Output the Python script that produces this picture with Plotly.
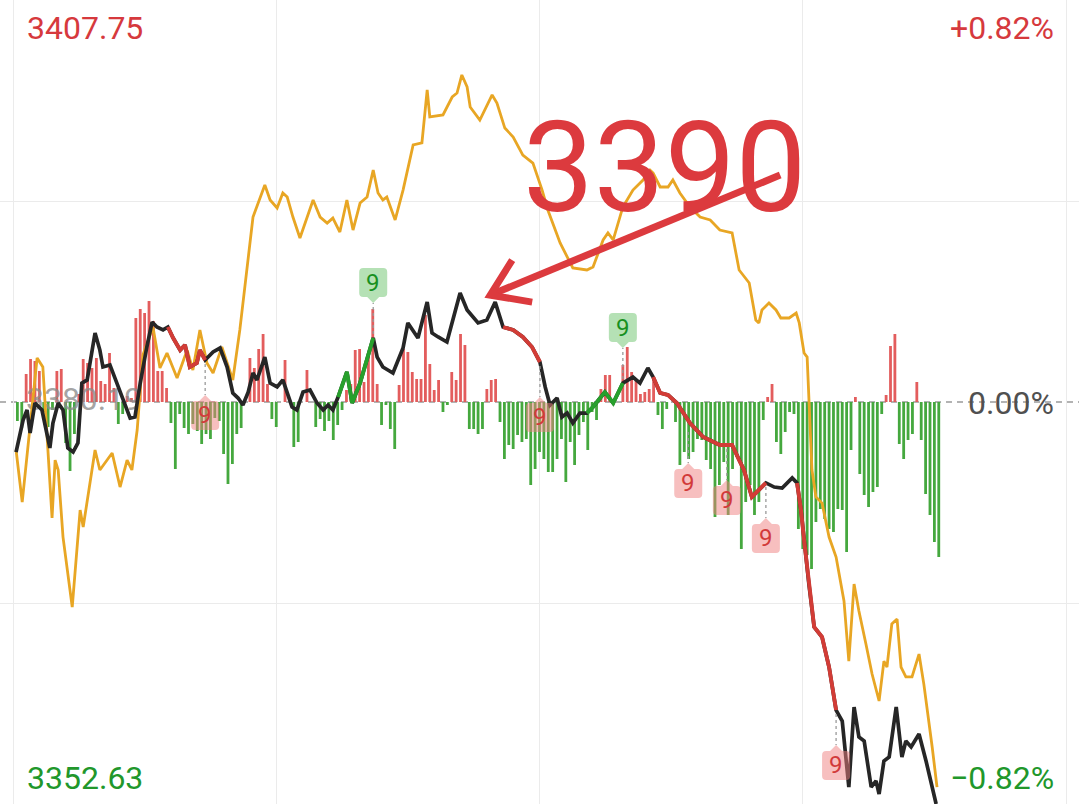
import plotly.graph_objects as go

# ---------------- data ----------------
PREV_CLOSE = 3380.19
TOP_PRICE = 3407.75
BOTTOM_PRICE = 3352.63
TOP_PCT = "+0.82%"
BOTTOM_PCT = "\u22120.82%"
MID_PCT = "0.00%"

# minutes since the open (0..240)
avg_t = [0.7, 2.1, 5.5, 6.8, 8.9, 9.6, 10.3, 11.4, 13.5, 15.3, 16.0, 18.7, 19.8, 22.6, 24.4, 26.0, 27.1,
         28.3, 29.6, 31.9, 33.5, 35.1, 37.4, 39.7, 41.0, 42.6, 44.2, 45.6, 47.6, 50.1, 51.7, 53.3, 54.7,
         57.4, 58.6, 60.2, 61.5, 62.5, 63.8, 65.4, 67.0, 68.4, 70.0, 71.6, 72.9, 74.5, 76.1, 77.5, 79.1,
         80.7, 82.1, 83.2, 84.3, 85.2, 87.1, 88.9, 91.2, 93.2, 94.4, 95.0, 98.0, 100.1, 101.2, 102.3, 103.5,
         104.2, 106.4, 109.2, 110.3, 112.1, 114.0, 116.2, 118.5, 120.6, 121.9, 124.7, 127.6, 130.8, 132.2,
         134.5, 135.6, 136.8, 139.0, 141.3, 143.6, 145.2, 145.9, 147.5, 149.3, 150.4, 152.0, 154.3, 156.6,
         158.9, 161.1, 163.9, 165.5, 167.8, 169.3, 170.0, 170.7, 172.3, 173.9, 175.0, 176.9, 178.5, 179.2,
         180.3, 181.0, 181.4, 182.1, 183.0, 184.4, 186.0, 187.6, 189.4, 190.5, 191.7, 192.8, 194.4, 195.8,
         197.4, 198.5, 199.2, 200.3, 201.5, 202.4, 203.5, 204.9, 206.5, 207.6, 209.5, 210.6]
avg_p = [3376.90, 3373.33, 3383.21, 3382.59, 3372.24, 3376.21, 3375.53, 3370.93, 3366.13, 3372.78, 3371.62,
         3376.90, 3375.53, 3376.69, 3374.36, 3376.21, 3375.53, 3378.27, 3383.41, 3385.33, 3382.52, 3383.55,
         3381.83, 3383.75, 3382.38, 3385.13, 3382.86, 3382.18, 3383.96, 3381.70, 3385.13, 3389.24, 3392.87,
         3395.07, 3394.04, 3393.49, 3394.52, 3394.24, 3392.87, 3391.43, 3392.87, 3394.04, 3392.87, 3392.46,
         3392.80, 3391.84, 3394.04, 3391.98, 3393.83, 3394.24, 3396.09, 3394.52, 3394.04, 3394.24, 3392.67,
         3394.72, 3397.81, 3397.95, 3401.58, 3399.73, 3399.87, 3401.10, 3401.37, 3402.61, 3401.79, 3400.41,
         3399.52, 3401.24, 3400.69, 3398.97, 3398.36, 3397.12, 3396.57, 3394.72, 3393.35, 3391.09, 3389.38,
         3389.24, 3389.44, 3391.30, 3391.78, 3391.30, 3393.56, 3394.72, 3395.41, 3396.09, 3395.89, 3394.93,
         3394.93, 3395.41, 3394.52, 3393.56, 3392.87, 3392.67, 3391.98, 3391.78, 3389.24, 3388.35, 3385.81,
         3385.61, 3386.50, 3386.98, 3386.50, 3385.95, 3385.95, 3386.29, 3385.61, 3383.55, 3383.27, 3380.12,
         3375.53, 3373.68, 3373.26, 3370.93, 3369.56, 3366.55, 3362.43, 3367.71, 3365.86, 3363.60, 3361.54,
         3359.69, 3362.43, 3362.02, 3364.97, 3365.31, 3362.02, 3361.34, 3361.34, 3362.91, 3360.85, 3356.54,
         3353.79]

price_t = [0.7, 2.3, 3.2, 3.9, 5.0, 6.6, 8.4, 9.1, 10.3, 11.4, 12.5, 13.7, 14.8, 15.7, 16.9, 18.7, 19.8,
           20.5, 22.1, 23.7, 25.1, 26.7, 27.8, 29.0, 30.5, 31.7, 32.8, 34.2, 35.3, 36.5, 38.1, 39.2, 40.3,
           41.9, 42.6, 43.8, 45.6, 47.2, 48.8, 50.1, 51.3, 52.4, 53.6, 54.7, 55.6, 57.4, 58.6, 60.2, 61.5,
           63.6, 64.7, 66.1, 67.7, 69.3, 70.7, 71.8, 72.9, 74.1, 76.1, 77.3, 79.1, 82.1, 83.0, 84.3, 86.6,
           88.9, 90.0, 92.3, 94.4, 95.5, 96.9, 98.9, 101.9, 103.5, 106.0, 108.0, 109.9, 111.7, 114.0, 116.2,
           118.3, 120.1, 121.3, 122.4, 124.0, 125.1, 126.3, 127.6, 129.2, 130.8, 132.2, 134.9, 136.8, 139.0,
           141.3, 142.9, 144.7, 145.9, 147.5, 149.3, 151.3, 154.3, 157.3, 161.1, 163.9, 165.5, 166.6, 168.4,
           170.0, 171.6, 173.5, 175.3, 177.6, 178.7, 179.6, 180.3, 181.4, 182.6, 184.4, 186.0, 187.6, 189.0,
           190.5, 191.7, 192.8, 194.0, 195.6, 196.7, 197.4, 198.5, 199.7, 201.3, 202.6, 203.5, 204.7, 206.5,
           208.1, 210.4]
price_p = [3376.76, 3378.95, 3379.64, 3378.06, 3380.12, 3379.64, 3377.04, 3378.75, 3380.12, 3379.64, 3377.04,
           3376.76, 3377.38, 3381.49, 3381.70, 3384.92, 3383.75, 3382.59, 3382.73, 3381.49, 3380.33, 3379.09,
           3379.16, 3381.49, 3383.96, 3385.67, 3385.33, 3385.13, 3385.33, 3384.58, 3383.75, 3384.10, 3382.59,
           3382.86, 3383.75, 3383.07, 3383.62, 3383.89, 3382.59, 3380.81, 3380.46, 3379.98, 3380.87, 3382.18,
           3381.70, 3383.27, 3381.49, 3381.22, 3381.70, 3379.85, 3379.64, 3380.87, 3381.01, 3380.12, 3379.64,
           3379.98, 3379.64, 3380.53, 3382.25, 3380.12, 3381.49, 3384.58, 3383.27, 3382.59, 3382.18, 3383.89,
           3385.61, 3384.58, 3387.04, 3384.92, 3384.65, 3384.30, 3387.66, 3386.50, 3385.61, 3385.81, 3387.04,
           3385.33, 3385.13, 3384.65, 3383.96, 3382.93, 3381.22, 3379.98, 3380.46, 3379.16, 3379.43, 3378.75,
           3379.43, 3379.43, 3379.85, 3380.87, 3380.12, 3381.49, 3381.90, 3381.49, 3382.52, 3381.90, 3380.81,
           3380.67, 3380.12, 3378.75, 3377.79, 3377.24, 3377.24, 3376.21, 3375.53, 3373.68, 3374.16, 3374.64,
           3374.36, 3374.29, 3374.98, 3374.64, 3372.78, 3370.73, 3367.71, 3364.76, 3364.08, 3362.02, 3359.07,
           3358.32, 3353.79, 3359.28, 3357.22, 3356.95, 3353.79, 3354.21, 3353.31, 3355.58, 3355.85, 3359.28,
           3355.85, 3356.95, 3356.54, 3357.43, 3355.58, 3352.63]

# coloured runs of the price line: (first index, last index, kind)
runs = [(28, 35, "down"), (57, 61, "up"), (77, 81, "down"), (89, 93, "up"), (97, 109, "down"), (113, 120, "down")]

# one bar per minute, starting at minute 1
flow = [-19, -26, 28, 43, 41, 31, -10, -25, -8, 31,
        33, -41, -69, -32, 8, 43, 39, 34, 44, 21,
        18, 49, 14, -22, -12, 6, 4, 84, 93, 89,
        101, 81, 31, 31, 14, -21, -67, -12, -26, -32,
        -22, -29, -42, -32, -37, -16, -19, -52, -82, -62,
        -32, -26, 0, 44, 34, 53, 68, 18, -17, -25,
        0, 42, 0, -45, -40, 0, 32, 0, -25, -17,
        -29, -19, -38, -23, -8, 12, 18, 52, 53, 20,
        47, 93, 18, -23, -3, -27, -47, 17, 53, 50,
        30, 23, 23, 87, 38, 12, 22, -10, -3, 30,
        22, 68, 57, -27, -27, -32, -27, 13, 22, 23,
        -20, -57, -43, -47, -33, -40, -37, -83, -67, -50,
        -57, -70, -70, -57, -37, -80, -40, -63, -33, -20,
        -48, -10, -18, 13, 27, 27, 0, 0, 37, 55,
        30, 23, 8, 10, 13, 23, -13, -27, -7, 0,
        -20, -63, -50, -57, -50, -37, -38, -58, -67, -115,
        -83, -60, -113, -67, -55, -147, -100, -83, -113, -100,
        -18, 5, 18, -40, -52, -30, -10, -12, -127, -147,
        -153, -167, -120, -107, -117, -127, -130, -107, -108, -150,
        -48, 5, -72, -93, -105, -90, -85, -12, 7, 56,
        68, -42, -57, -38, -32, 20, -38, -92, -113, -140,
        -155]
flow_t = list(range(1, len(flow) + 1))

# "9" signals: minute, price, kind
sig_t = [43.8, 82.1, 120.1, 139.0, 153.9, 162.7, 171.6, 187.6]
sig_p = [3383.07, 3384.58, 3382.93, 3381.49, 3378.41, 3377.24, 3374.64, 3359.07]
sig_kind = ["down", "up", "down", "up", "down", "down", "down", "down"]

# annotation arrow points at the morning high of the price line
CALLOUT_TEXT = "3390"
callout_t, callout_p = 109.9, 3387.04

# ---------------- styling ----------------
RED = "#d6393d"
GREEN = "#21972b"
BAR_RED = "#e35d5d"
BAR_GREEN = "#45a83e"
FONT = "Roboto"

fig = go.Figure()

# faint previous-close label sits under everything
fig.add_trace(go.Scatter(x=[16.2], y=[0], mode="text", text=[f"{PREV_CLOSE:.2f}"],
                         textfont=dict(family=FONT, size=32, color="rgba(140,140,140,0.8)"),
                         textposition="middle center", yaxis="y", hoverinfo="skip"))

fig.add_trace(go.Bar(x=flow_t, y=flow, width=0.64, yaxis="y",
                     marker=dict(color=[BAR_RED if v > 0 else BAR_GREEN for v in flow], line=dict(width=0)),
                     hoverinfo="skip"))

fig.add_trace(go.Scatter(x=avg_t, y=avg_p, mode="lines", yaxis="y2",
                         line=dict(color="#e8a624", width=2.8), hoverinfo="skip"))
fig.add_trace(go.Scatter(x=price_t, y=price_p, mode="lines", yaxis="y2",
                         line=dict(color="#262626", width=3.7), hoverinfo="skip"))
for a, b, kind in runs:
    fig.add_trace(go.Scatter(x=price_t[a:b + 1], y=price_p[a:b + 1], mode="lines", yaxis="y2",
                             line=dict(color=("#d23c36" if kind == "down" else "#27a02c"), width=3.9),
                             hoverinfo="skip"))

shapes = []
annotations = []

# zero (previous close) dashed line
shapes.append(dict(type="line", xref="paper", yref="y", x0=0, x1=1, y0=0, y1=0, layer="below",
                   line=dict(color="#9a9a9a", width=1.6, dash="6px,5px")))

# "9" signal boxes
down_box = ("M -10,-41 L -6,-41 L 0,-35 L 6,-41 L 10,-41 Q 14,-41 14,-45 L 14,-66 "
            "Q 14,-70 10,-70 L -10,-70 Q -14,-70 -14,-66 L -14,-45 Q -14,-41 -10,-41 Z")
up_box = ("M -10,41 L -6,41 L 0,35 L 6,41 L 10,41 Q 14,41 14,45 L 14,66 "
          "Q 14,70 10,70 L -10,70 Q -14,70 -14,66 L -14,45 Q -14,41 -10,41 Z")
for t, p, kind in zip(sig_t, sig_p, sig_kind):
    down = kind == "down"
    shapes.append(dict(type="line", xref="x", yref="y2", xsizemode="pixel", ysizemode="pixel",
                       xanchor=t, yanchor=p, x0=0, x1=0, y0=(-4 if down else 4), y1=(-35 if down else 35),
                       line=dict(color="#9a9a9a", width=1.3, dash="dot"), layer="above"))
    shapes.append(dict(type="path", xref="x", yref="y2", xsizemode="pixel", ysizemode="pixel",
                       xanchor=t, yanchor=p, path=(down_box if down else up_box),
                       fillcolor=("rgba(240,128,128,0.5)" if down else "rgba(120,200,120,0.55)"),
                       line=dict(width=0), layer="above"))
    annotations.append(dict(x=t, y=p, xref="x", yref="y2", text="9", showarrow=False,
                            yshift=(-55 if down else 55),
                            font=dict(family=FONT, size=24, color=("#d23a3a" if down else "#18901f"))))

# red callout arrow
ARROW = "#dc3a3e"
shapes.append(dict(type="line", xref="x", yref="y2", xsizemode="pixel", ysizemode="pixel",
                   xanchor=callout_t, yanchor=callout_p, x0=-5, y0=7, x1=285, y1=127,
                   line=dict(color=ARROW, width=7), layer="above"))
shapes.append(dict(type="path", xref="x", yref="y2", xsizemode="pixel", ysizemode="pixel",
                   xanchor=callout_t, yanchor=callout_p, path="M 17,42 L -5,7 L 37,0",
                   line=dict(color=ARROW, width=7), layer="above"))

annotations.append(dict(x=0.6163, y=0.791, xref="paper", yref="paper", text=CALLOUT_TEXT,
                        showarrow=False, xanchor="center", yanchor="middle",
                        font=dict(family=FONT, size=126, color=ARROW)))

# axis value labels
lab = dict(family=FONT, size=32)
annotations += [
    dict(x=0.0232, y=0.965, xref="paper", yref="paper", text=f"{TOP_PRICE:.2f}", showarrow=False,
         xanchor="left", yanchor="middle", font=dict(lab, color=RED)),
    dict(x=0.979, y=0.965, xref="paper", yref="paper", text=TOP_PCT, showarrow=False,
         xanchor="right", yanchor="middle", font=dict(lab, color=RED)),
    dict(x=0.0232, y=0.0323, xref="paper", yref="paper", text=f"{BOTTOM_PRICE:.2f}", showarrow=False,
         xanchor="left", yanchor="middle", font=dict(lab, color=GREEN)),
    dict(x=0.979, y=0.0323, xref="paper", yref="paper", text=BOTTOM_PCT, showarrow=False,
         xanchor="right", yanchor="middle", font=dict(lab, color=GREEN)),
    dict(x=0.979, y=0.4988, xref="paper", yref="paper", text=MID_PCT, showarrow=False,
         xanchor="right", yanchor="middle", font=dict(lab, color="#505050")),
]

fig.update_layout(
    width=1079, height=804,
    margin=dict(l=0, r=0, t=0, b=0),
    paper_bgcolor="white", plot_bgcolor="white",
    showlegend=False, hovermode=False,
    xaxis=dict(range=[-2.963, 242.963], tickvals=[0, 60, 120, 180, 240], showticklabels=False,
               showgrid=True, gridcolor="#ebebeb", gridwidth=1.2, zeroline=False, fixedrange=True),
    yaxis=dict(range=[-402, 402], tickvals=[-201, 201], showticklabels=False, showgrid=True,
               gridcolor="#ebebeb", gridwidth=1.2, zeroline=False, fixedrange=True),
    yaxis2=dict(range=[BOTTOM_PRICE, TOP_PRICE], overlaying="y", showticklabels=False, showgrid=False,
                zeroline=False, fixedrange=True),
    shapes=shapes,
    annotations=annotations,
)

fig.write_html("out.html", config={"displayModeBar": False},
               post_script="document.body.style.margin='0';document.body.style.overflow='hidden';")
